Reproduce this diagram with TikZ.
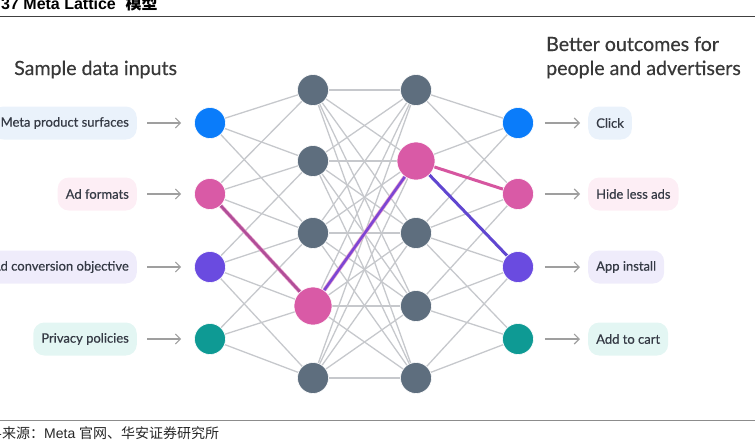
\documentclass[tikz,border=0pt]{standalone}
\usepackage{fontspec}
\setmainfont{Lato}
\newfontfamily\medfont{Lato}[FakeBold=0.45]
\newfontfamily\capfont{Liberation Sans}
\newfontfamily\cjkfont{Noto Sans CJK SC}
\usetikzlibrary{arrows.meta}
\pgfdeclarelayer{background}
\pgfsetlayers{background,main}
\definecolor{nblue}{HTML}{0A7CFA}
\definecolor{npink}{HTML}{D95AA6}
\definecolor{npurple}{HTML}{6A4BE0}
\definecolor{nteal}{HTML}{0E9A94}
\definecolor{ngray}{HTML}{5E6E7E}
\definecolor{edgegray}{HTML}{C6C8CC}
\definecolor{txt}{HTML}{353A45}
\definecolor{lblue}{HTML}{EAF2FB}
\definecolor{lpink}{HTML}{FDEEF5}
\definecolor{lpurple}{HTML}{EFECFB}
\definecolor{lteal}{HTML}{E3F6F3}
\definecolor{plum}{HTML}{B04E98}
\definecolor{violetline}{HTML}{7D46D4}
\definecolor{pinkline}{HTML}{D656A0}
\definecolor{purpleline}{HTML}{6046D0}
\tikzset{
  neuron/.style={circle, inner sep=0pt, minimum size=31pt, draw=white, line width=0.6pt},
  bigneuron/.style={circle, inner sep=0pt, minimum size=38pt, draw=white, line width=0.6pt},
  edge/.style={draw=edgegray, line width=1.3pt},
  pill/.style={rounded corners=11pt, minimum height=33pt, inner xsep=8pt, font=\medfont\fontsize{13}{15}\selectfont, text=txt},
  flow/.style={draw=gray!75, line width=1.1pt, -{Straight Barb[length=5pt,width=10pt]}},
  head/.style={font=\medfont\fontsize{19.6}{24}\selectfont, text=black!78, inner sep=0pt}
}
\begin{document}
\begin{tikzpicture}[x=1pt,y=-1pt]
\useasboundingbox (0,0) rectangle (755,440);
\clip (0,0) rectangle (755,440);

% caption
\node[anchor=base west, inner sep=0pt, font=\capfont\bfseries\fontsize{16}{18}\selectfont] (cap) at (1,9) {37 Meta Lattice\hspace{0.6em}{\cjkfont 模型}};
\draw[black!75, line width=0.9pt] (0,16.5) -- (755,16.5);
\draw[black!45, line width=1.6pt] (0,420.5) -- (755,420.5);
\node[anchor=base east, inner sep=0pt, font=\cjkfont\fontsize{14}{16}\selectfont, text=black!85] (src0) at (2,438) {资料};
\node[anchor=base west, inner sep=0pt, font=\fontsize{14}{16}\selectfont, text=black!85] (src) at (2,438) {{\cjkfont 来源：}{\capfont Meta }{\cjkfont 官网、华安证券研究所}};

% headers
\node[head, anchor=base west] (hl) at (14,75) {Sample data inputs};
\node[head, anchor=base west, align=left] (hr1) at (546,51) {Better outcomes for};
\node[head, anchor=base west, align=left] (hr2) at (546,75) {people and advertisers};

% neurons
\node[neuron, fill=nblue]   (i0) at (210,123) {};
\node[neuron, fill=npink]   (i1) at (210,194) {};
\node[neuron, fill=npurple] (i2) at (210,267) {};
\node[neuron, fill=nteal]   (i3) at (210,339) {};
\node[neuron, fill=ngray] (a0) at (313,90) {};
\node[neuron, fill=ngray] (a1) at (313,161) {};
\node[neuron, fill=ngray] (a2) at (313,233) {};
\node[bigneuron, fill=npink] (a3) at (313,306) {};
\node[neuron, fill=ngray] (a4) at (313,378) {};
\node[neuron, fill=ngray] (b0) at (416,90) {};
\node[bigneuron, fill=npink] (b1) at (416,161) {};
\node[neuron, fill=ngray] (b2) at (416,233) {};
\node[neuron, fill=ngray] (b3) at (416,306) {};
\node[neuron, fill=ngray] (b4) at (416,378) {};
\node[neuron, fill=nblue]   (o0) at (518,123) {};
\node[neuron, fill=npink]   (o1) at (518,194) {};
\node[neuron, fill=npurple] (o2) at (518,267) {};
\node[neuron, fill=nteal]   (o3) at (518,339) {};

\begin{pgfonlayer}{background}
  \foreach \s/\t in {i0/a0,i0/a1,i0/a2,i1/a0,i1/a1,i1/a2,i2/a1,i2/a2,i2/a3,i2/a4,i3/a2,i3/a3,i3/a4,
                     o0/b0,o0/b1,o0/b2,o1/b0,o1/b2,o1/b3,o2/b2,o2/b3,o2/b4,o3/b2,o3/b3,o3/b4}
    \draw[edge] (\s.center) -- (\t.center);
  \foreach \s in {a0,a1,a2,a3,a4}
    \foreach \t in {b0,b1,b2,b3,b4}
      \draw[edge] (\s.center) -- (\t.center);
  \draw[line width=4pt, npink!60] (i1.center) -- (a3.center);
  \draw[line width=2.6pt, plum] (i1.center) -- (a3.center);
  \draw[line width=4pt, npink!55] (a3.center) -- (b1.center);
  \draw[line width=2.6pt, violetline] (a3.center) -- (b1.center);
  \draw[line width=3pt, pinkline] (b1.center) -- (o1.center);
  \draw[line width=3pt, purpleline] (b1.center) -- (o2.center);
\end{pgfonlayer}

% left labels
\node[pill, fill=lblue,   anchor=east] (l0) at (137,123) {Meta product surfaces};
\node[pill, fill=lpink,   anchor=east] (l1) at (137,194) {Ad formats};
\node[pill, fill=lpurple, anchor=east] (l2) at (137,267) {Ad conversion objective};
\node[pill, fill=lteal,   anchor=east] (l3) at (137,339) {Privacy policies};
% right labels
\node[pill, fill=lblue,   anchor=west] (r0) at (588,123) {Click};
\node[pill, fill=lpink,   anchor=west] (r1) at (588,194) {Hide less ads};
\node[pill, fill=lpurple, anchor=west] (r2) at (588,267) {App install};
\node[pill, fill=lteal,   anchor=west] (r3) at (588,339) {Add to cart};

\foreach \k in {0,1,2,3}{
  \draw[flow, shorten <=10pt, shorten >=13pt] (l\k.east) -- (i\k.west);
  \draw[flow, shorten <=11pt, shorten >=8pt] (o\k.east) -- (r\k.west);
}
\end{tikzpicture}
\end{document}
